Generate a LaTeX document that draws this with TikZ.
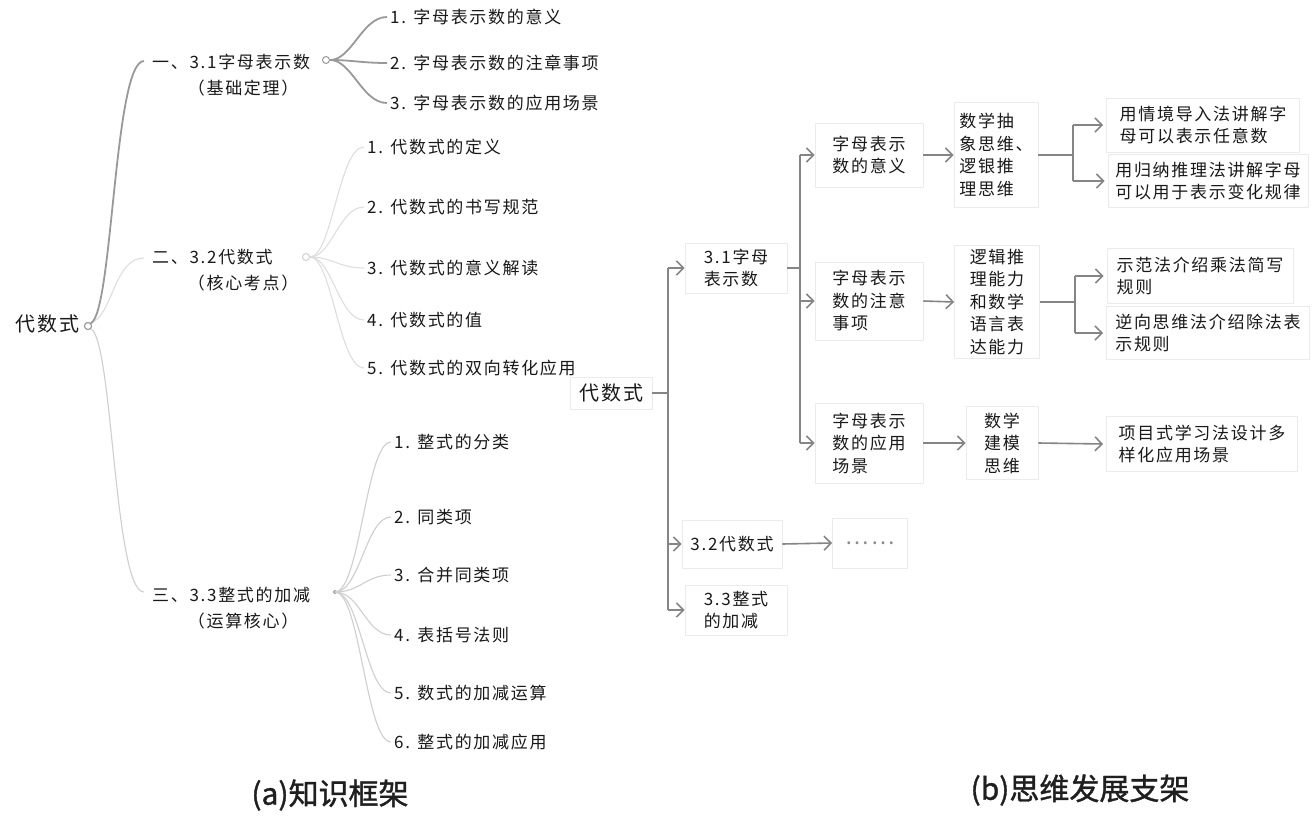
\documentclass[tikz,border=0pt]{standalone}
\usepackage{fontspec}
\newfontfamily\cjk[LetterSpace=10]{Noto Sans CJK SC}
\newfontfamily\capfont[FakeBold=1.2]{Noto Sans CJK SC}
\usetikzlibrary{arrows.meta}
\begin{document}
\begin{tikzpicture}[x=1pt,y=-1pt,
  lt/.style={font=\cjk\fontsize{17}{26}\selectfont, anchor=west, inner sep=0pt, align=left, text=black!90},
  knot/.style={circle, draw=black!40, fill=white, inner sep=0pt, minimum size=7pt, line width=1pt},
  curveA/.style={draw=black!40, line width=1.8pt},
  curveB/.style={draw=black!13, line width=1.1pt},
  curveC/.style={draw=black!19, line width=1.1pt},
  rbox/.style={draw=black!8, line width=0.8pt, font=\cjk\fontsize{17}{22.5}\selectfont, align=left, inner sep=0pt, text=black!90},
  rline/.style={draw=black!48, line width=1.6pt},
  rarr/.style={rline, -{Straight Barb[length=7pt,width=14pt,line width=1.6pt]}},
  captext/.style={font=\capfont\fontsize{30}{34}\selectfont, inner sep=0pt, text=black!88}
]
\useasboundingbox (0,0) rectangle (1314,816);
\fill[white] (0,0) rectangle (1314,816);

% ---------------- (a) knowledge framework ----------------
\node[lt, font=\cjk\fontsize{20}{24}\selectfont] (L0) at (15,324) {代数式};
\node[knot] (k0) at (88,326) {};

\node[lt] (L1) at (152,75) {一、3.1字母表示数\\\phantom{一、}（基础定理）};
\node[lt] (L2) at (152,270) {二、3.2代数式\\\phantom{二、}（核心考点）};
\node[lt] (L3) at (152,608) {三、3.3整式的加减\\\phantom{三、}（运算核心）};
\coordinate (L1in) at (144,61);
\coordinate (L2in) at (144,258);
\coordinate (L3in) at (144,592);

\draw[curveC] (k0.south east) .. controls +(22,10) and +(-30,0) .. (L3in);
\draw[curveB] (k0.north east) .. controls +(22,-8) and +(-30,0) .. (L2in);
\draw[curveA] (k0.north east) .. controls +(22,-10) and +(-30,0) .. (L1in);
\node[knot] (k0b) at (88,326) {};

\node[knot] (k1) at (326,60) {};
\node[knot, draw=black!18] (k2) at (306,257) {};
\node[circle, fill=black!35, inner sep=0pt, minimum size=4pt] (k3) at (335,592) {};

\node[lt] (L11) at (390,17) {1. 字母表示数的意义};
\node[lt] (L12) at (390,63) {2. 字母表示数的注章事项};
\node[lt] (L13) at (390,103) {3. 字母表示数的应用场景};
\foreach \n in {L11,L12,L13}
  \draw[curveA] (k1.east) .. controls +(22,0) and +(-25,0) .. ([xshift=-3pt]\n.west);

\node[lt] (L21) at (367,147) {1. 代数式的定义};
\node[lt] (L22) at (367,207) {2. 代数式的书写规范};
\node[lt] (L23) at (367,268) {3. 代数式的意义解读};
\node[lt] (L24) at (367,320) {4. 代数式的值};
\node[lt] (L25) at (367,368) {5. 代数式的双向转化应用};
\foreach \n in {L21,L22,L23,L24,L25}
  \draw[curveB] (k2.east) .. controls +(22,0) and +(-25,0) .. ([xshift=-3pt]\n.west);

\node[lt] (L31) at (394,442) {1. 整式的分类};
\node[lt] (L32) at (394,517) {2. 同类项};
\node[lt] (L33) at (394,575) {3. 合并同类项};
\node[lt] (L34) at (394,635) {4. 表括号法则};
\node[lt] (L35) at (394,693) {5. 数式的加减运算};
\node[lt] (L36) at (394,742) {6. 整式的加减应用};
\foreach \n in {L31,L32,L33,L34,L35,L36}
  \draw[curveC] (k3.center) .. controls +(25,0) and +(-25,0) .. ([xshift=-3pt]\n.west);

\node[captext] (capA) at (330,795) {(a)知识框架};

% ---------------- (b) thinking scaffold ----------------
\node[rbox, minimum width=82pt, minimum height=32pt, font=\cjk\fontsize{20}{24}\selectfont] (R0) at (611,393) {代数式};
\coordinate (T0) at (668,393);
\node[rbox, minimum width=102pt, minimum height=50pt] (R1) at (736,268) {3.1字母\\表示数};
\node[rbox, minimum width=100pt, minimum height=48pt] (R2) at (732,544) {3.2代数式};
\node[rbox, minimum width=102pt, minimum height=50pt] (R3) at (736,610) {3.3整式\\的加减};
\node[rbox, minimum width=75pt, minimum height=50pt, font=\cjk\fontsize{22}{24}\selectfont, text=black!45] (R2d) at (870,543) {……};

\draw[rline] (R0.east) -- (T0);
\draw[rline] (R1.west -| T0) -- (R3.west -| T0);
\draw[rarr] (R1.west -| T0) -- (R1.west);
\draw[rarr] (R2.west -| T0) -- (R2.west);
\draw[rarr] (R3.west -| T0) -- (R3.west);
\draw[rarr] (R2.east) -- (R2d.west);

\node[rbox, minimum width=108pt, minimum height=64pt] (A1) at (869,155) {字母表示\\数的意义};
\node[rbox, minimum width=108pt, minimum height=78pt] (A2) at (869,301) {字母表示\\数的注意\\事项};
\node[rbox, minimum width=108pt, minimum height=80pt] (A3) at (869,443) {字母表示\\数的应用\\场景};
\coordinate (V1) at (800,268);
\draw[rline] (R1.east) -- (V1);
\draw[rline] (A1.west -| V1) -- (A3.west -| V1);
\draw[rarr] (A1.west -| V1) -- (A1.west);
\draw[rarr] (A2.west -| V1) -- (A2.west);
\draw[rarr] (A3.west -| V1) -- (A3.west);

\node[rbox, minimum width=84pt, minimum height=105pt] (B1) at (996,155) {数学抽\\象思维、\\逻银推\\理思维};
\node[rbox, minimum width=85pt, minimum height=113pt] (B2) at (997,302) {逻辑推\\理能力\\和数学\\语言表\\达能力};
\node[rbox, minimum width=72pt, minimum height=73pt] (B3) at (1002,443) {数学\\建模\\思维};
\draw[rarr] (A1.east) -- (B1.west);
\draw[rarr] (A2.east) -- (B2.west);
\draw[rarr] (A3.east) -- (B3.west);

\node[rbox, minimum width=193pt, minimum height=54pt] (C1) at (1203,125) {用情境导入法讲解字\\母可以表示任意数};
\node[rbox, minimum width=200pt, minimum height=53pt] (C2) at (1208,181) {用归纳推理法讲解字母\\可以用于表示变化规律};
\node[rbox, minimum width=186pt, minimum height=55pt] (C3) at (1200,276) {示范法介绍乘法简写\\规则};
\node[rbox, minimum width=203pt, minimum height=53pt] (C4) at (1208,333) {逆向思维法介绍除法表\\示规则};
\node[rbox, minimum width=191pt, minimum height=55pt] (C5) at (1202,444) {项目式学习法设计多\\样化应用场景};

\coordinate (S1) at (1073,155);
\coordinate (S2) at (1075,302);
\draw[rline] (B1.east) -- (S1);
\draw[rline] (C1.west -| S1) -- (C2.west -| S1);
\draw[rarr] (C1.west -| S1) -- ([xshift=-3pt]C1.west);
\draw[rarr] (C2.west -| S1) -- ([xshift=-3pt]C2.west);
\draw[rline] (B2.east) -- (S2);
\draw[rline] (C3.west -| S2) -- (C4.west -| S2);
\draw[rarr] (C3.west -| S2) -- ([xshift=-3pt]C3.west);
\draw[rarr] (C4.west -| S2) -- ([xshift=-3pt]C4.west);
\draw[rarr] (B3.east) -- ([xshift=-3pt]C5.west);

\node[captext] (capB) at (1080,790) {(b)思维发展支架};
\end{tikzpicture}
\end{document}
